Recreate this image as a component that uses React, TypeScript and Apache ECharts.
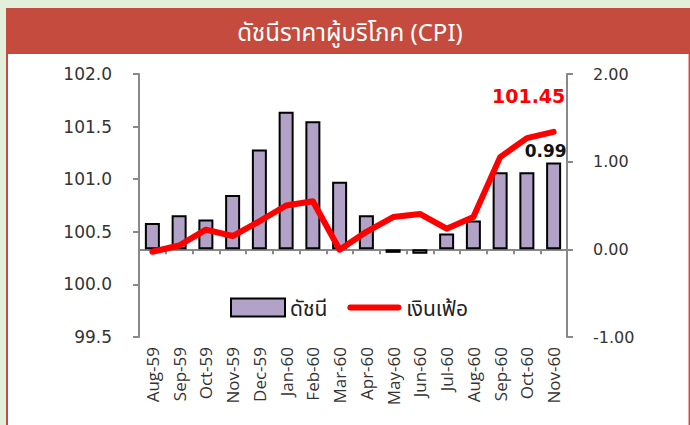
import React, { useEffect, useRef } from "react";
import * as echarts from "echarts";

const categories = ["Aug-59","Sep-59","Oct-59","Nov-59","Dec-59","Jan-60","Feb-60","Mar-60","Apr-60","May-60","Jun-60","Jul-60","Aug-60","Sep-60","Oct-60","Nov-60"];
const inflationBars = [0.30, 0.39, 0.34, 0.62, 1.14, 1.57, 1.46, 0.77, 0.39, -0.04, -0.05, 0.18, 0.33, 0.88, 0.88, 0.99];
const indexLine = [100.31, 100.37, 100.52, 100.46, 100.60, 100.75, 100.79, 100.33, 100.50, 100.64, 100.67, 100.53, 100.64, 101.21, 101.39, 101.45];
const leftTicks = { min: 99.5, max: 102.0, interval: 0.5 };
const rightTicks = { min: -1, max: 2, interval: 1 };
const title = "ดัชนีราคาผู้บริโภค (CPI)";
const legendNames = ["ดัชนี", "เงินเฟ้อ"];

const FONT = "'DejaVu Sans', Verdana, sans-serif";
const XFONT = "'Open Sans', 'DejaVu Sans', sans-serif";
const THAI = "'Noto Sans', 'Noto Sans Thai', 'DejaVu Sans', sans-serif";

export default function App() {
  const ref = useRef<HTMLDivElement>(null);
  useEffect(() => {
    if (!ref.current) return;
    const chart = echarts.init(ref.current, null, { renderer: "svg" });
    const last = categories.length - 1;
    chart.setOption({
      animation: false,
      backgroundColor: "#e2efda",
      graphic: [
        { type: "rect", z: -10, shape: { x: 6, y: 8, width: 684, height: 417 }, style: { fill: "#c44b3d" } },
        { type: "rect", z: -9, shape: { x: 8, y: 54, width: 680, height: 371 }, style: { fill: "#ffffff" } },
        { type: "rect", z: -9, shape: { x: 688, y: 54, width: 1, height: 371 }, style: { fill: "#e8a9a9" } },
        { type: "text", x: 350, y: 31, style: { text: title, fill: "#ffffff", font: `24px ${THAI}`, align: "center", verticalAlign: "middle" } },
      ],
      legend: {
        data: [
          { name: legendNames[0], icon: "rect" },
          { name: legendNames[1], icon: "path://M3,0H53A3,3,0,0,1,53,6H3A3,3,0,0,1,3,0Z" },
        ],
        left: 225,
        top: 292,
        itemWidth: 54,
        itemHeight: 18,
        itemGap: 20,
        textStyle: { fontFamily: THAI, fontSize: 21, color: "#222" },
      },
      grid: { left: 139, right: 123, top: 74, bottom: 88, containLabel: false },
      xAxis: {
        type: "category",
        data: categories,
        boundaryGap: true,
        axisLine: { lineStyle: { color: "#898989", width: 2 } },
        axisTick: { show: true, alignWithLabel: false, length: 5, lineStyle: { color: "#898989", width: 2 } },
        axisLabel: { rotate: 90, interval: 0, color: "#333", fontFamily: XFONT, fontSize: 17, margin: 10 },
      },
      yAxis: [
        {
          type: "value",
          position: "left",
          min: leftTicks.min, max: leftTicks.max, interval: leftTicks.interval,
          splitLine: { show: false },
          axisLine: { show: true, lineStyle: { color: "#898989", width: 2 } },
          axisTick: { show: true, length: 6, lineStyle: { color: "#898989", width: 2 } },
          axisLabel: { color: "#333", fontFamily: FONT, fontSize: 17, margin: 27, formatter: (v: number) => v.toFixed(1) },
        },
        {
          type: "value",
          position: "right",
          min: rightTicks.min, max: rightTicks.max, interval: rightTicks.interval,
          splitLine: { show: false },
          axisLine: { show: true, lineStyle: { color: "#898989", width: 2 } },
          axisTick: { show: true, length: 6, lineStyle: { color: "#898989", width: 2 } },
          axisLabel: { color: "#333", fontFamily: FONT, fontSize: 16, margin: 26, formatter: (v: number) => v.toFixed(2) },
        },
      ],
      series: [
        {
          name: legendNames[0],
          type: "bar",
          yAxisIndex: 1,
          data: inflationBars.map((v, i) => ({
            value: v,
            label: i === last ? { show: true, position: "top", distance: 3, offset: [-8, 0], formatter: v.toFixed(2), color: "#111", fontWeight: "bold", fontSize: 17, fontFamily: FONT } : { show: false },
          })),
          barWidth: 15,
          itemStyle: { color: "#b3a2c7", borderColor: "#000", borderWidth: 2 },
        },
        {
          name: legendNames[1],
          type: "line",
          yAxisIndex: 0,
          data: indexLine.map((v, i) => ({
            value: v,
            label: i === last ? { show: true, position: "top", distance: 26, offset: [-25, 0], formatter: v.toFixed(2), color: "#ff0000", fontWeight: "bold", fontSize: 19, fontFamily: FONT } : { show: false },
          })),
          showSymbol: true,
          symbol: "circle",
          symbolSize: 0,
          lineStyle: { color: "#ff0000", width: 6, cap: "round", join: "round" },
          itemStyle: { color: "#ff0000" },
        },
      ],
    });
    return () => chart.dispose();
  }, []);
  return <div ref={ref} style={{ position: "fixed", left: 0, top: 0, width: 690, height: 425 }} />;
}
